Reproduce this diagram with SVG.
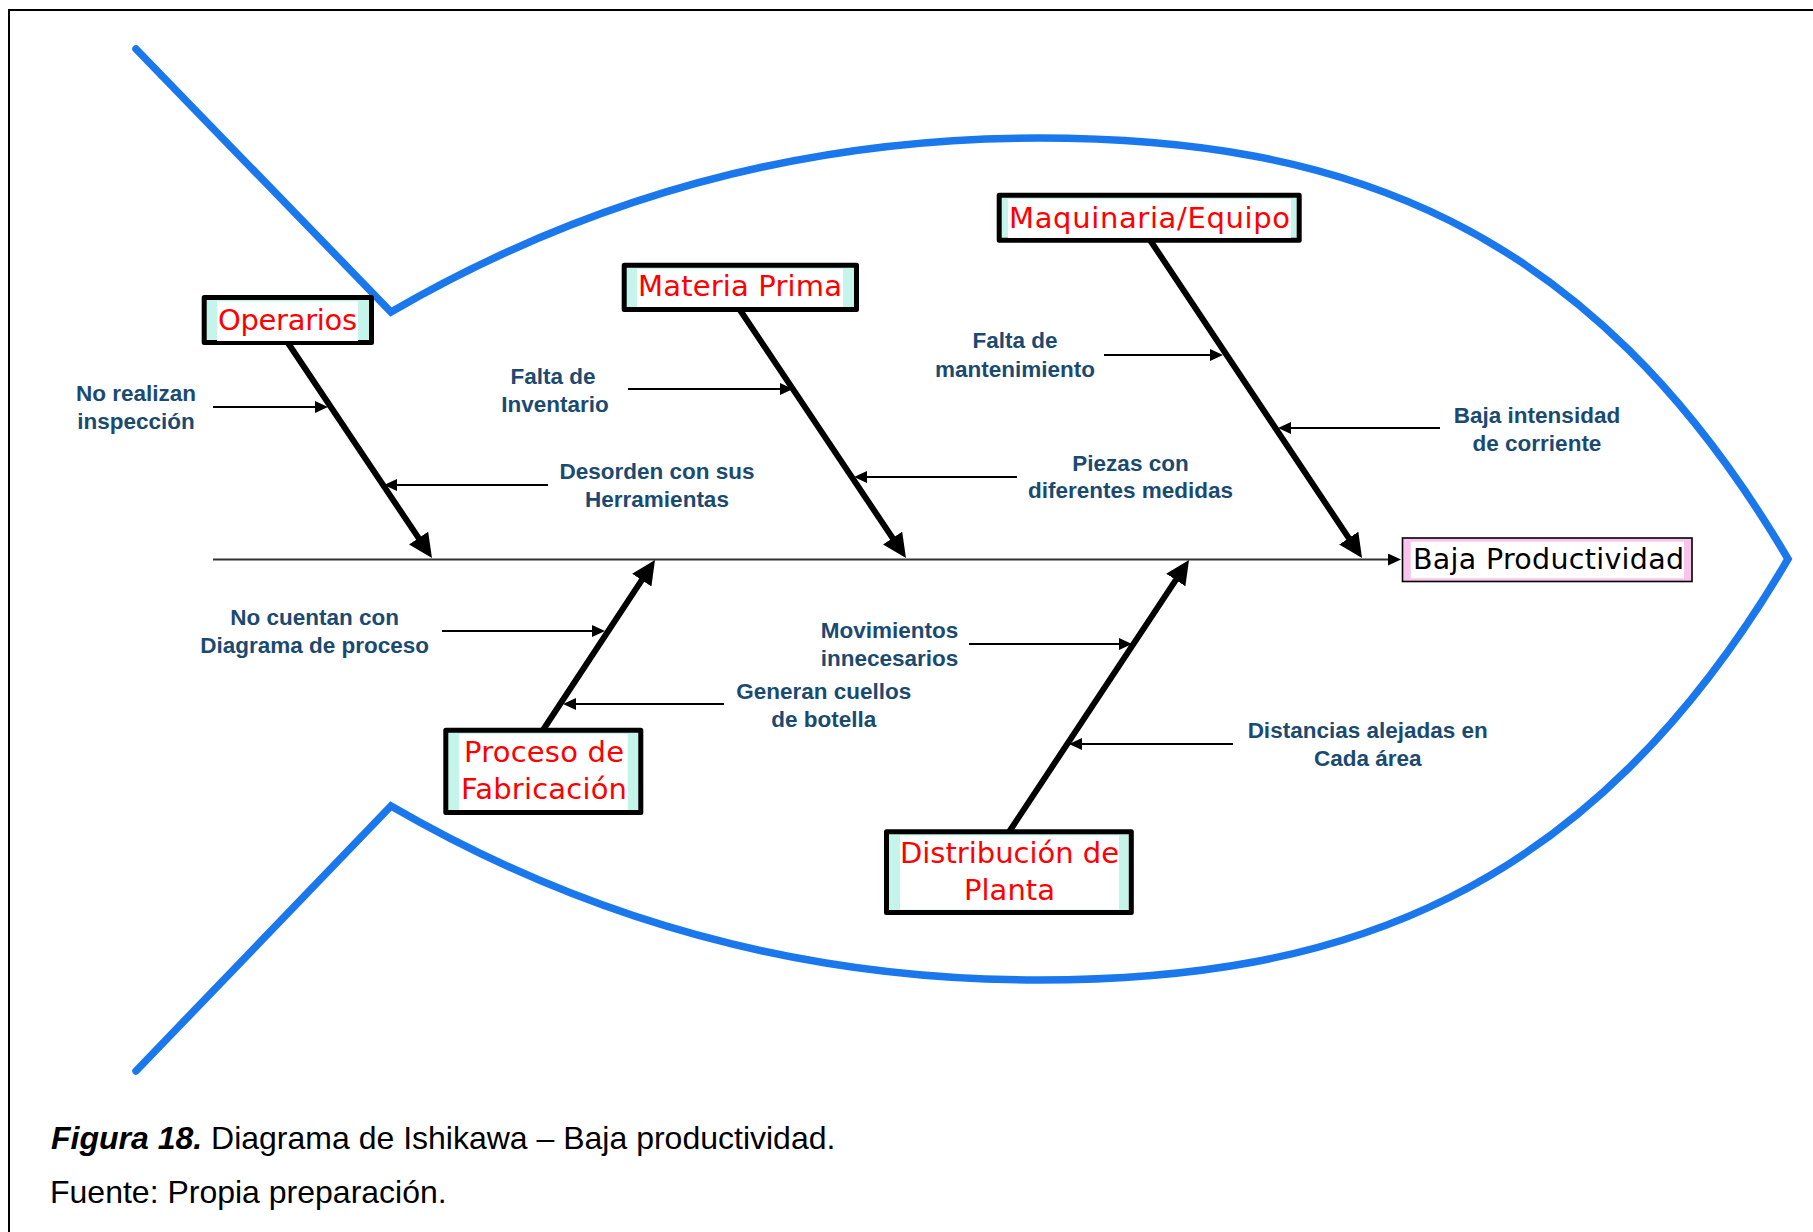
<svg xmlns="http://www.w3.org/2000/svg" width="1813" height="1232" viewBox="0 0 1813 1232">
<defs>
<style>
.frame{fill:none;stroke:#000;stroke-width:2}
.fish{fill:none;stroke:#1a78ec;stroke-width:7.5;stroke-linecap:round;stroke-linejoin:miter;stroke-miterlimit:10}
.box{fill:#c4f4ea;stroke:#000;stroke-width:5;stroke-linejoin:round}
.inner{fill:#fff}
.title{font-family:"DejaVu Sans","Liberation Sans",sans-serif;font-size:29px;fill:#ff0000;text-anchor:middle}
.effect{font-family:"DejaVu Sans","Liberation Sans",sans-serif;font-size:28.5px;fill:#000;text-anchor:middle}
.lbl{font-family:"Liberation Sans",Arial,sans-serif;font-weight:bold;font-size:22.5px;fill:#1b4a70;text-anchor:middle}
.cap{font-family:"Liberation Sans",Arial,sans-serif;font-size:32px;fill:#000}
.bone{fill:none;stroke:#000;stroke-width:6}
.sub{fill:none;stroke:#000;stroke-width:2}
.spine{fill:none;stroke:#333;stroke-width:2}
</style>
<marker id="bigHead" markerUnits="userSpaceOnUse" markerWidth="26" markerHeight="24" refX="14" refY="11.5" orient="auto">
<path d="M0,0 L24,11.5 L0,23 z" fill="#000"/>
</marker>
<marker id="smallHead" markerUnits="userSpaceOnUse" markerWidth="14" markerHeight="13" refX="9" refY="6" orient="auto">
<path d="M0,0 L13,6 L0,12 z" fill="#000"/>
</marker>
</defs>
<rect width="1813" height="1232" fill="#fff"/>
<path class="frame" d="M9,1232 V10 H1813"/>
<path id="fish" class="fish" d="M136,49 L391,312 Q691,138 1038,138 C1338,138 1588,219 1788,559 C1588,899 1338,980 1038,980 Q691,980 391,806 L136,1071"/>

<g id="connectors">
<path class="spine" d="M213,559.5 H1397" marker-end="url(#smallHead)"/>
<path class="bone" d="M288,343 L426.4,549.7" marker-end="url(#bigHead)"/>
<path class="bone" d="M740,310 L900.4,549.7" marker-end="url(#bigHead)"/>
<path class="bone" d="M1150,240 L1356.5,549.7" marker-end="url(#bigHead)"/>
<path class="bone" d="M543,730 L649.5,568.4" marker-end="url(#bigHead)"/>
<path class="bone" d="M1009,832 L1183.5,568.3" marker-end="url(#bigHead)"/>
<path class="sub" d="M213,407 H324" marker-end="url(#smallHead)"/>
<path class="sub" d="M548,485 H388" marker-end="url(#smallHead)"/>
<path class="sub" d="M628,389 H789" marker-end="url(#smallHead)"/>
<path class="sub" d="M1017,477 H858" marker-end="url(#smallHead)"/>
<path class="sub" d="M1104,355 H1219" marker-end="url(#smallHead)"/>
<path class="sub" d="M1440,428 H1282" marker-end="url(#smallHead)"/>
<path class="sub" d="M442,631 H601" marker-end="url(#smallHead)"/>
<path class="sub" d="M724,704 H567" marker-end="url(#smallHead)"/>
<path class="sub" d="M969,644 H1128" marker-end="url(#smallHead)"/>
<path class="sub" d="M1233,744 H1073" marker-end="url(#smallHead)"/>
</g>

<g id="operarios">
<rect class="box" x="204.2" y="297.5" width="167.3" height="45"/>
<rect class="inner" x="217" y="301.5" width="141" height="39.5"/>
<text class="title" x="287.5" y="330" textLength="139">Operarios</text>
</g>
<g id="materia-prima">
<rect class="box" x="624.2" y="265.2" width="232.3" height="44.3"/>
<rect class="inner" x="637" y="269" width="206" height="38"/>
<text class="title" x="740" y="296" textLength="204">Materia Prima</text>
</g>
<g id="maquinaria">
<rect class="box" x="999.2" y="195.2" width="300" height="45"/>
<rect class="inner" x="1008" y="199" width="283" height="39"/>
<text class="title" x="1149.5" y="227.5" textLength="281">Maquinaria/Equipo</text>
</g>
<g id="proceso">
<rect class="box" x="445.8" y="730.2" width="195" height="82.3"/>
<rect class="inner" x="459" y="734" width="168.7" height="76"/>
<text class="title" x="544" y="761.7" textLength="160">Proceso de</text>
<text class="title" x="544" y="799" textLength="166">Fabricación</text>
</g>
<g id="distribucion">
<rect class="box" x="886.5" y="831.8" width="244.8" height="80.7"/>
<rect class="inner" x="900" y="835.5" width="219" height="74"/>
<text class="title" x="1009.5" y="863.3" textLength="219">Distribución de</text>
<text class="title" x="1009.5" y="900">Planta</text>
</g>
<g id="baja-productividad">
<rect x="1402.5" y="538" width="289.5" height="43.5" fill="#f8c4ec" stroke="#000" stroke-width="1.6"/>
<rect class="inner" x="1410.7" y="541.7" width="273.3" height="36.6"/>
<text class="effect" x="1548.5" y="569" textLength="271">Baja Productividad</text>
</g>

<g id="causes">
<text class="lbl" x="136" y="401">No realizan</text>
<text class="lbl" x="136" y="429">inspección</text>
<text class="lbl" x="657" y="479">Desorden con sus</text>
<text class="lbl" x="657" y="506.5">Herramientas</text>
<text class="lbl" x="553" y="383.5">Falta de</text>
<text class="lbl" x="555" y="411.5">Inventario</text>
<text class="lbl" x="1130.5" y="471">Piezas con</text>
<text class="lbl" x="1130.5" y="498">diferentes medidas</text>
<text class="lbl" x="1015" y="348.3">Falta de</text>
<text class="lbl" x="1015" y="376.7">mantenimiento</text>
<text class="lbl" x="1537" y="422.7">Baja intensidad</text>
<text class="lbl" x="1537" y="450.7">de corriente</text>
<text class="lbl" x="314.7" y="625">No cuentan con</text>
<text class="lbl" x="314.7" y="653">Diagrama de proceso</text>
<text class="lbl" x="823.7" y="699.3">Generan cuellos</text>
<text class="lbl" x="823.7" y="726.7">de botella</text>
<text class="lbl" x="889.6" y="638.3">Movimientos</text>
<text class="lbl" x="889.6" y="666">innecesarios</text>
<text class="lbl" x="1367.7" y="738.3">Distancias alejadas en</text>
<text class="lbl" x="1367.7" y="766">Cada área</text>
</g>

<g id="caption">
<text class="cap" x="51" y="1149"><tspan font-weight="bold" font-style="italic">Figura 18.</tspan> Diagrama de Ishikawa – Baja productividad.</text>
<text class="cap" x="50" y="1203">Fuente: Propia preparación.</text>
</g>
</svg>
